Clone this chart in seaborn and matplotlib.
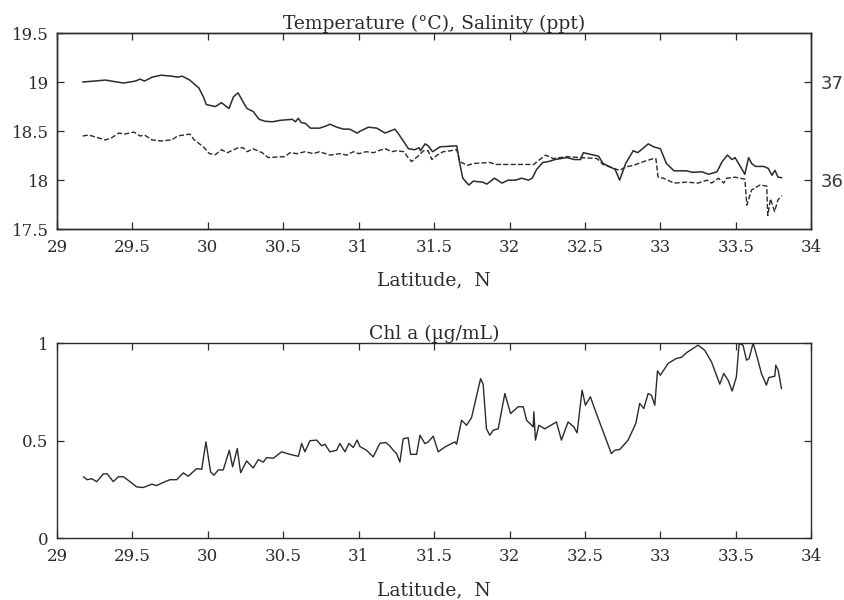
#!/usr/bin/env python3
"""
Temperature, salinity and chlorophyll a along a transect, plotted against latitude.
"""

import matplotlib
matplotlib.use('Agg')
import matplotlib.pyplot as plt
import seaborn as sns

# --- data ---------------------------------------------------------------
temp_lat = [29.17, 29.32, 29.44, 29.52, 29.55, 29.58, 29.63, 29.69, 29.76, 29.80,
            29.83, 29.88, 29.94, 29.97, 29.99, 30.05, 30.09, 30.14, 30.17, 30.20,
            30.24, 30.26, 30.30, 30.34, 30.38, 30.43, 30.48, 30.56, 30.58, 30.60,
            30.62, 30.645, 30.68, 30.74, 30.78, 30.81, 30.855, 30.90, 30.94, 30.965,
            30.99, 31.01, 31.065, 31.12, 31.175, 31.24, 31.26, 31.30, 31.33, 31.37,
            31.40, 31.41, 31.44, 31.46, 31.49, 31.54, 31.65, 31.67, 31.69, 31.73,
            31.76, 31.82, 31.85, 31.90, 31.95, 31.99, 32.04, 32.08, 32.125, 32.15,
            32.18, 32.22, 32.26, 32.30, 32.38, 32.43, 32.47, 32.49, 32.53, 32.59,
            32.62, 32.66, 32.70, 32.73, 32.77, 32.82, 32.85, 32.92, 32.955, 33.00,
            33.04, 33.09, 33.175, 33.21, 33.275, 33.32, 33.375, 33.41, 33.445, 33.475,
            33.495, 33.53, 33.56, 33.585, 33.605, 33.63, 33.685, 33.715, 33.74, 33.76,
            33.78, 33.805]
temperature = [19.00, 19.02, 18.99, 19.01, 19.03, 19.01, 19.05, 19.07, 19.06, 19.05,
               19.06, 19.02, 18.94, 18.85, 18.77, 18.75, 18.79, 18.73, 18.85, 18.89,
               18.78, 18.73, 18.70, 18.62, 18.60, 18.595, 18.61, 18.62, 18.595, 18.63,
               18.585, 18.58, 18.53, 18.53, 18.55, 18.57, 18.54, 18.52, 18.52, 18.50,
               18.48, 18.50, 18.54, 18.53, 18.48, 18.52, 18.48, 18.39, 18.32, 18.31,
               18.33, 18.30, 18.37, 18.35, 18.29, 18.34, 18.35, 18.17, 18.02, 17.95,
               17.99, 17.98, 17.96, 18.02, 17.97, 18.00, 18.00, 18.02, 18.00, 18.02,
               18.11, 18.18, 18.19, 18.21, 18.23, 18.21, 18.21, 18.28, 18.265, 18.245,
               18.17, 18.14, 18.11, 18.00, 18.17, 18.30, 18.28, 18.37, 18.34, 18.32,
               18.17, 18.095, 18.095, 18.08, 18.085, 18.06, 18.085, 18.19, 18.255, 18.21,
               18.23, 18.14, 18.06, 18.23, 18.17, 18.14, 18.14, 18.12, 18.05, 18.10,
               18.03, 18.025]

sal_lat = [29.17, 29.21, 29.32, 29.36, 29.41, 29.45, 29.51, 29.55, 29.58, 29.63,
           29.69, 29.76, 29.80, 29.88, 29.91, 29.97, 30.01, 30.05, 30.09, 30.13,
           30.20, 30.235, 30.26, 30.30, 30.36, 30.40, 30.51, 30.545, 30.59, 30.645,
           30.70, 30.74, 30.81, 30.875, 30.92, 30.965, 31.00, 31.05, 31.10, 31.13,
           31.175, 31.22, 31.25, 31.30, 31.32, 31.35, 31.39, 31.43, 31.46, 31.485,
           31.52, 31.56, 31.61, 31.65, 31.67, 31.72, 31.76, 31.87, 31.91, 31.98,
           32.16, 32.20, 32.24, 32.29, 32.38, 32.47, 32.58, 32.62, 32.69, 32.73,
           32.77, 32.82, 32.89, 32.955, 32.97, 32.985, 33.02, 33.09, 33.175, 33.25,
           33.31, 33.34, 33.385, 33.42, 33.44, 33.495, 33.56, 33.573, 33.605, 33.66,
           33.705, 33.712, 33.73, 33.757, 33.78, 33.805]
salinity = [36.45, 36.46, 36.41, 36.43, 36.48, 36.47, 36.49, 36.45, 36.46, 36.41,
            36.40, 36.41, 36.45, 36.47, 36.41, 36.34, 36.27, 36.26, 36.31, 36.28,
            36.33, 36.33, 36.29, 36.32, 36.28, 36.23, 36.24, 36.28, 36.27, 36.29,
            36.27, 36.29, 36.255, 36.27, 36.255, 36.29, 36.27, 36.29, 36.28, 36.30,
            36.32, 36.29, 36.30, 36.29, 36.245, 36.19, 36.24, 36.30, 36.30, 36.21,
            36.255, 36.29, 36.30, 36.31, 36.19, 36.15, 36.17, 36.18, 36.16, 36.16,
            36.16, 36.21, 36.255, 36.22, 36.24, 36.23, 36.22, 36.16, 36.12, 36.10,
            36.135, 36.15, 36.19, 36.22, 36.22, 36.03, 36.02, 35.97, 35.98, 35.97,
            36.00, 35.97, 36.02, 35.97, 36.02, 36.03, 36.01, 35.745, 35.90, 35.95,
            35.94, 35.64, 35.81, 35.68, 35.80, 35.84]

chl_lat = [29.175, 29.20, 29.23, 29.263, 29.307, 29.333, 29.373, 29.406, 29.44, 29.484,
           29.528, 29.572, 29.628, 29.66, 29.716, 29.749, 29.793, 29.837, 29.87, 29.926,
           29.959, 29.987, 30.018, 30.04, 30.069, 30.102, 30.142, 30.164, 30.195, 30.217,
           30.257, 30.301, 30.334, 30.367, 30.39, 30.434, 30.489, 30.544, 30.60, 30.622,
           30.643, 30.677, 30.721, 30.754, 30.776, 30.809, 30.854, 30.875, 30.909, 30.935,
           30.964, 30.99, 31.008, 31.052, 31.096, 31.14, 31.18, 31.207, 31.229, 31.251,
           31.273, 31.295, 31.328, 31.344, 31.384, 31.406, 31.439, 31.461, 31.494, 31.527,
           31.572, 31.638, 31.649, 31.682, 31.715, 31.748, 31.808, 31.825, 31.847, 31.869,
           31.892, 31.925, 31.969, 32.007, 32.057, 32.091, 32.113, 32.157, 32.161, 32.172,
           32.194, 32.234, 32.311, 32.344, 32.388, 32.426, 32.448, 32.481, 32.503, 32.536,
           32.576, 32.675, 32.698, 32.731, 32.786, 32.837, 32.863, 32.89, 32.919, 32.941,
           32.963, 32.981, 33.00, 33.051, 33.106, 33.139, 33.173, 33.25, 33.294, 33.339,
           33.394, 33.42, 33.449, 33.476, 33.504, 33.522, 33.548, 33.571, 33.588, 33.615,
           33.641, 33.67, 33.703, 33.719, 33.759, 33.765, 33.781, 33.803]
chl = [0.315, 0.30, 0.305, 0.29, 0.33, 0.33, 0.29, 0.315, 0.315, 0.29,
       0.263, 0.26, 0.277, 0.27, 0.29, 0.30, 0.30, 0.335, 0.318, 0.357,
       0.353, 0.494, 0.34, 0.323, 0.35, 0.35, 0.451, 0.366, 0.46, 0.336,
       0.396, 0.36, 0.403, 0.39, 0.413, 0.41, 0.443, 0.43, 0.42, 0.486,
       0.443, 0.50, 0.503, 0.474, 0.482, 0.443, 0.451, 0.486, 0.443, 0.486,
       0.465, 0.503, 0.47, 0.451, 0.417, 0.486, 0.491, 0.472, 0.451, 0.434,
       0.39, 0.51, 0.515, 0.43, 0.43, 0.528, 0.485, 0.494, 0.523, 0.443,
       0.468, 0.494, 0.482, 0.605, 0.579, 0.618, 0.818, 0.79, 0.561, 0.528,
       0.554, 0.561, 0.742, 0.639, 0.674, 0.674, 0.605, 0.571, 0.648, 0.503,
       0.579, 0.561, 0.596, 0.503, 0.596, 0.571, 0.54, 0.759, 0.682, 0.725,
       0.639, 0.434, 0.451, 0.455, 0.503, 0.588, 0.691, 0.665, 0.742, 0.733,
       0.682, 0.858, 0.836, 0.896, 0.922, 0.927, 0.951, 0.99, 0.964, 0.904,
       0.79, 0.845, 0.81, 0.755, 0.827, 0.998, 0.99, 0.913, 0.921, 1.001,
       0.93, 0.845, 0.785, 0.824, 0.831, 0.887, 0.862, 0.767]

lat_ticks = [29, 29.5, 30, 30.5, 31, 31.5, 32, 32.5, 33, 33.5, 34]
temp_ticks = [17.5, 18, 18.5, 19, 19.5]
sal_ticks = [36, 36.5, 37]
sal_ticklabels = ['36', '', '37']
chl_ticks = [0, 0.5, 1]

INK = '#2b2b2b'
SERIF = ['DejaVu Serif']

sns.set_style('ticks')
plt.rcParams['font.family'] = SERIF
plt.rcParams['axes.edgecolor'] = INK
plt.rcParams['axes.linewidth'] = 1.0


def style_axis(ax, ylim, yticks, labelpad):
    ax.set_xlim(29, 34)
    ax.set_ylim(*ylim)
    ax.set_xticks(lat_ticks)
    ax.set_xticklabels([f'{t:g}' for t in lat_ticks])
    ax.set_yticks(yticks)
    ax.set_yticklabels([f'{t:g}' for t in yticks])
    ax.tick_params(axis='x', direction='in', top=True, length=5, width=0.9,
                   pad=7, labelsize=12, colors=INK)
    ax.tick_params(axis='y', direction='in', length=5, width=0.9,
                   pad=6, labelsize=12, colors=INK)
    ax.set_xlabel('Latitude,  N', fontsize=13.5, labelpad=labelpad, color=INK)
    ax.set_ylabel('')


fig = plt.figure(figsize=(8.45, 6.0), dpi=100)

# --- temperature / salinity panel ---------------------------------------
ax1 = fig.add_axes([0.0675, 0.618, 0.8925, 0.327])
sns.lineplot(x=temp_lat, y=temperature, ax=ax1, color=INK, linewidth=1.1,
             estimator=None)
style_axis(ax1, (17.5, 19.5), temp_ticks, labelpad=11)
ax1.tick_params(axis='y', right=False)
ax1.set_title('Temperature (°C), Salinity (ppt)', fontsize=13.5, pad=3, color=INK)

ax1r = ax1.twinx()
sns.lineplot(x=sal_lat, y=salinity, ax=ax1r, color=INK, linewidth=1.0,
             linestyle='--', estimator=None)
ax1r.set_ylim(35.5, 37.5)
ax1r.set_yticks(sal_ticks)
ax1r.set_yticklabels(sal_ticklabels)
ax1r.tick_params(axis='y', direction='in', length=5, width=0.9, pad=7,
                 colors=INK, labelsize=13)
ax1r.set_ylabel('')

# --- chlorophyll panel --------------------------------------------------
ax2 = fig.add_axes([0.0675, 0.103, 0.8925, 0.325])
sns.lineplot(x=chl_lat, y=chl, ax=ax2, color=INK, linewidth=1.0,
             estimator=None)
style_axis(ax2, (0, 1), chl_ticks, labelpad=12)
ax2.tick_params(axis='y', right=True)
ax2.set_title('Chl a (µg/mL)', fontsize=13.5, pad=3, color=INK)

# right-hand salinity labels are set in a plain sans face in the original
for lbl in ax1r.get_yticklabels():
    lbl.set_fontfamily(['DejaVu Sans'])
    lbl.set_color('#3a3a3a')

fig.savefig('out.png', dpi=100)
plt.close(fig)
